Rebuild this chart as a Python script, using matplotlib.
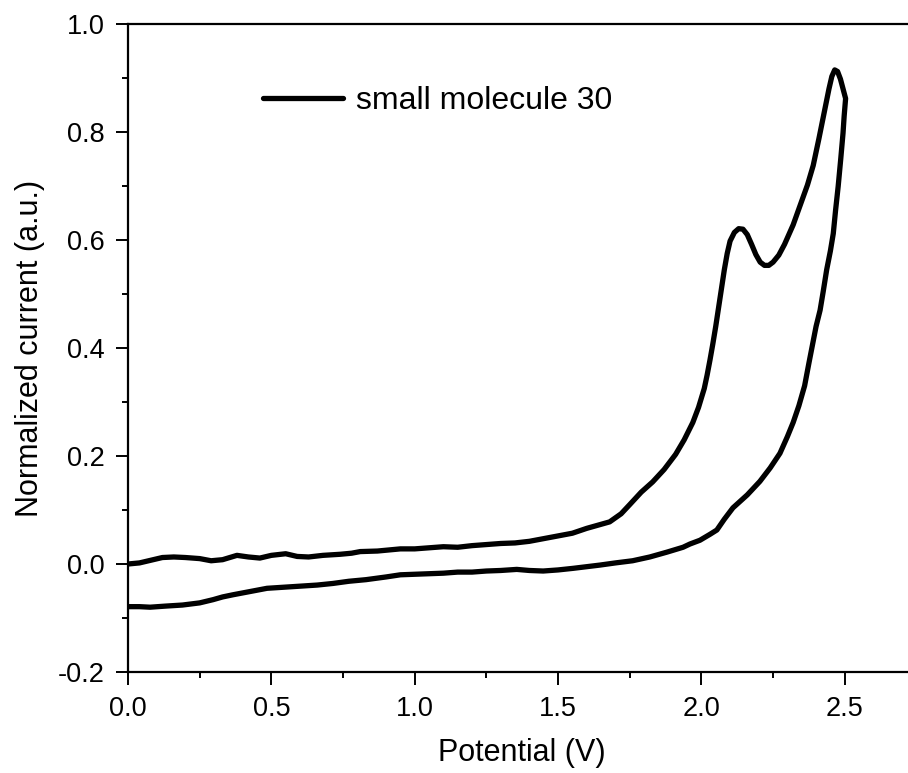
import matplotlib
matplotlib.use("Agg")
import matplotlib.pyplot as plt
from matplotlib.ticker import MultipleLocator, FormatStrFormatter

plt.rcParams['font.family'] = ['Liberation Sans', 'DejaVu Sans']
plt.rcParams['axes.unicode_minus'] = False

# Forward (upper) branch of the voltammogram
fwd_v = [0.00, 0.04, 0.08, 0.12, 0.16, 0.20, 0.25, 0.29, 0.33, 0.38, 0.42, 0.46, 0.50,
         0.55, 0.59, 0.63, 0.68, 0.74, 0.78, 0.81, 0.87, 0.95, 1.00, 1.05, 1.10, 1.15,
         1.20, 1.25, 1.30, 1.35, 1.40, 1.45, 1.50, 1.55, 1.60, 1.64, 1.68, 1.72, 1.75,
         1.79, 1.83, 1.87, 1.91, 1.94, 1.97, 1.99, 2.01, 2.02, 2.03, 2.04, 2.05, 2.06,
         2.07, 2.08, 2.09, 2.10, 2.115, 2.13, 2.145, 2.16, 2.175, 2.19, 2.205, 2.22,
         2.235, 2.25, 2.27, 2.29, 2.32, 2.345, 2.37, 2.39, 2.41, 2.43, 2.445, 2.455,
         2.465, 2.475, 2.485, 2.495, 2.503]
fwd_i = [0.000, 0.002, 0.007, 0.012, 0.013, 0.012, 0.010, 0.006, 0.008, 0.016, 0.013,
         0.011, 0.016, 0.019, 0.014, 0.013, 0.016, 0.018, 0.020, 0.023, 0.024, 0.028,
         0.028, 0.030, 0.032, 0.031, 0.034, 0.036, 0.038, 0.039, 0.042, 0.047, 0.052,
         0.057, 0.066, 0.072, 0.078, 0.093, 0.110, 0.133, 0.152, 0.175, 0.203, 0.230,
         0.262, 0.290, 0.325, 0.350, 0.378, 0.408, 0.440, 0.475, 0.510, 0.545, 0.575,
         0.598, 0.614, 0.621, 0.620, 0.610, 0.592, 0.573, 0.559, 0.553, 0.553, 0.559,
         0.572, 0.592, 0.628, 0.665, 0.702, 0.738, 0.788, 0.840, 0.880, 0.903, 0.915,
         0.912, 0.898, 0.878, 0.862]

# Reverse (lower) branch
rev_v = [2.498, 2.494, 2.486, 2.477, 2.468, 2.46, 2.45, 2.437, 2.425, 2.414, 2.40, 2.39,
         2.375, 2.36, 2.34, 2.32, 2.30, 2.274, 2.24, 2.204, 2.16, 2.11, 2.08, 2.054,
         2.03, 1.995, 1.96, 1.936, 1.88, 1.82, 1.76, 1.70, 1.646, 1.60, 1.553, 1.50,
         1.448, 1.40, 1.356, 1.30, 1.25, 1.20, 1.15, 1.10, 1.05, 1.00, 0.95, 0.90, 0.83,
         0.77, 0.715, 0.66, 0.60, 0.54, 0.485, 0.425, 0.366, 0.33, 0.297, 0.25, 0.19,
         0.13, 0.077, 0.04, 0.00]
rev_i = [0.830, 0.798, 0.750, 0.699, 0.655, 0.612, 0.580, 0.545, 0.505, 0.470, 0.440,
         0.413, 0.372, 0.330, 0.293, 0.262, 0.236, 0.205, 0.178, 0.153, 0.128, 0.104,
         0.083, 0.063, 0.055, 0.044, 0.037, 0.031, 0.022, 0.013, 0.006, 0.002, -0.002,
         -0.005, -0.008, -0.011, -0.013, -0.012, -0.010, -0.012, -0.013, -0.015, -0.015,
         -0.017, -0.018, -0.019, -0.020, -0.024, -0.029, -0.032, -0.036, -0.039, -0.041,
         -0.043, -0.045, -0.051, -0.057, -0.061, -0.066, -0.072, -0.076, -0.078, -0.080,
         -0.079, -0.079]

series_label = "small molecule 30"
x_label = "Potential (V)"
y_label = "Normalized current (a.u.)"

W, H = 908, 773
fig = plt.figure(figsize=(W / 100, H / 100), dpi=100)
left, right, bottom, top = 128, 915, 672, 24
ax = fig.add_axes([left / W, 1 - bottom / H, (right - left) / W, (bottom - top) / H])

ax.plot(fwd_v + rev_v, fwd_i + rev_i, color='black', lw=3.8,
        solid_joinstyle='round', solid_capstyle='round', label=series_label)

ax.set_xlim(0, (right - left) / 286.7)
ax.set_ylim(-0.2, 1.0)
ax.xaxis.set_major_locator(MultipleLocator(0.5))
ax.xaxis.set_minor_locator(MultipleLocator(0.25))
ax.yaxis.set_major_locator(MultipleLocator(0.2))
ax.yaxis.set_minor_locator(MultipleLocator(0.1))
ax.xaxis.set_major_formatter(FormatStrFormatter('%.1f'))
ax.yaxis.set_major_formatter(FormatStrFormatter('%.1f'))

for s in ['left', 'bottom', 'top']:
    ax.spines[s].set_linewidth(1.6)
ax.spines['right'].set_visible(False)

ax.tick_params(which='major', direction='out', length=9, width=1.4, labelsize=19.5, pad=8)
ax.tick_params(which='minor', direction='out', length=4.5, width=1.4)
ax.tick_params(top=False, right=False)

ax.set_xlabel(x_label, fontsize=22, labelpad=12)
ax.set_ylabel(y_label, fontsize=22, labelpad=9)

leg = ax.legend(loc='center left', bbox_to_anchor=(263 / W, 1 - 101 / H),
                bbox_transform=fig.transFigure, frameon=False, fontsize=23,
                handlelength=2.5, handletextpad=0.4, borderpad=0, borderaxespad=0)

fig.savefig('out.png', dpi=100)
